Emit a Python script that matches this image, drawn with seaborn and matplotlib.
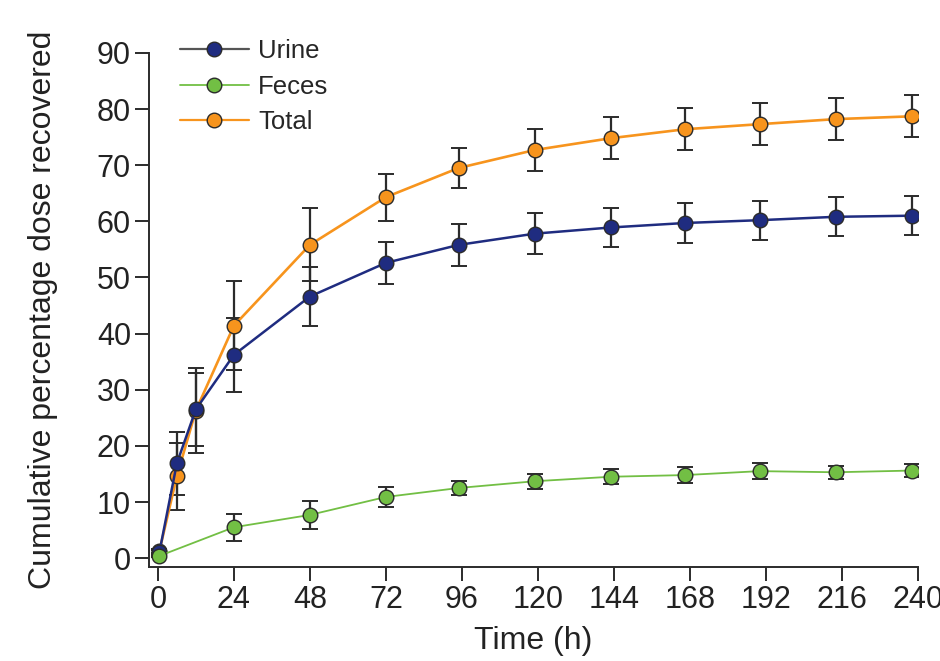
import pandas as pd
import seaborn as sns
import matplotlib.pyplot as plt
from matplotlib.lines import Line2D

# Data
time_h = [0.5, 6, 12, 24, 48, 72, 95, 119, 143, 166.5, 190, 214, 238]

urine = [1.1, 16.9, 26.5, 36.2, 46.6, 52.6, 55.8, 57.8, 58.9, 59.7, 60.2, 60.8, 61.0]
urine_sd = [0.4, 5.6, 6.5, 6.6, 5.3, 3.7, 3.8, 3.6, 3.5, 3.5, 3.5, 3.5, 3.5]

feces = [0.4, 0.0, 0.0, 5.5, 7.7, 10.9, 12.5, 13.7, 14.5, 14.8, 15.5, 15.3, 15.6]
feces_sd = [0.2, 0.0, 0.0, 2.4, 2.5, 1.8, 1.2, 1.3, 1.3, 1.4, 1.4, 1.2, 1.2]

total = [1.3, 14.6, 26.3, 41.4, 55.8, 64.3, 69.5, 72.7, 74.8, 76.4, 77.3, 78.2, 78.7]
total_sd = [0.4, 6.0, 7.5, 7.9, 6.5, 4.2, 3.6, 3.7, 3.7, 3.75, 3.7, 3.7, 3.75]

series_names = ["Total", "Urine", "Feces"]
colors = {"Urine": "#1f2c80", "Feces": "#72bf44", "Total": "#f7941d"}
widths = {"Urine": 1.8, "Feces": 1.3, "Total": 1.9}

# feces has no 6 h / 12 h samples shown -> drop those
rows = []
for name, vals, sds in [("Total", total, total_sd), ("Urine", urine, urine_sd), ("Feces", feces, feces_sd)]:
    for i, (t, v, s) in enumerate(zip(time_h, vals, sds)):
        if name == "Feces" and i in (1, 2):
            continue
        rows.append({"time": t, "value": v, "sd": s, "series": name})
df = pd.DataFrame(rows)

sns.set_style("ticks")
plt.rcParams['font.family'] = ['Liberation Sans', 'DejaVu Sans']

fig = plt.figure(figsize=(9.4, 6.61), dpi=100)
ax = fig.add_axes([0.1585, 0.142, 0.818, 0.778])

for name in series_names:
    sub = df[df["series"] == name]
    ax.errorbar(sub["time"], sub["value"], yerr=sub["sd"], fmt="none",
                ecolor="#2b2b2b", elinewidth=1.6, capsize=5.5, capthick=1.4, zorder=2)
    sns.lineplot(data=sub, x="time", y="value", color=colors[name], lw=widths[name],
                 marker="o", markersize=10.5, markeredgecolor="#2b2b2b",
                 markeredgewidth=1.0, ax=ax, zorder=3, legend=False)

ax.set_xlim(-2.8, 240)
ax.set_ylim(-1.6, 90)
ax.set_xticks(range(0, 241, 24))
ax.set_yticks(range(0, 91, 10))
ax.tick_params(labelsize=22, length=10, width=1.4, color="#2b2b2b", labelcolor="#222222", pad=3)
for sp in ["left", "bottom"]:
    ax.spines[sp].set_linewidth(1.4)
    ax.spines[sp].set_color("#2b2b2b")
sns.despine(ax=ax)

ax.set_xlabel("Time (h)", fontsize=23, color="#222222", labelpad=8)
ax.set_ylabel("Cumulative percentage dose recovered", fontsize=23, color="#222222", labelpad=28)

handles = [
    Line2D([], [], color="#555555", lw=1.6, marker="o", markersize=10.5,
           markerfacecolor=colors["Urine"], markeredgecolor="#2b2b2b"),
    Line2D([], [], color=colors["Feces"], lw=1.3, marker="o", markersize=10.5,
           markerfacecolor=colors["Feces"], markeredgecolor="#2b2b2b"),
    Line2D([], [], color=colors["Total"], lw=1.6, marker="o", markersize=10.5,
           markerfacecolor=colors["Total"], markeredgecolor="#2b2b2b"),
]
fig.legend(handles, ["Urine", "Feces", "Total"], loc="upper left",
           bbox_to_anchor=(0.191, 0.941), frameon=False, fontsize=18.5,
           handlelength=2.7, handletextpad=0.35, labelspacing=0.45,
           borderpad=0, borderaxespad=0)

fig.savefig("out.png", dpi=100)
